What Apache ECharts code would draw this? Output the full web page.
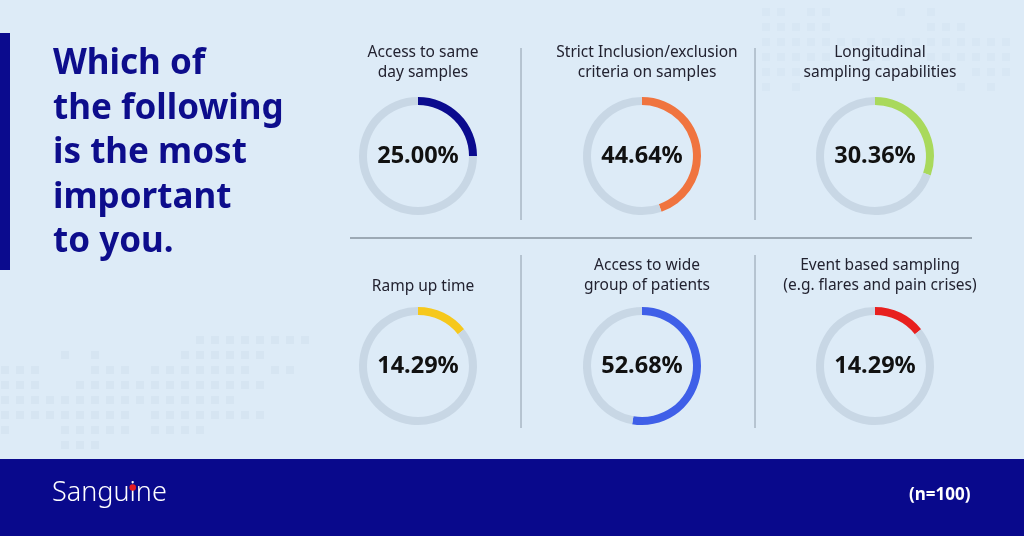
<!DOCTYPE html>
<html>
<head>
<meta charset="utf-8">
<script src="https://cdn.jsdelivr.net/npm/echarts@6/dist/echarts.min.js"></script>
<style>
html,body{margin:0;padding:0;background:#ddebf7;}
#main{width:1024px;height:536px;}
</style>
</head>
<body>
<div id="main"></div>
<script>
// ---- data ----
var categories = [
  "Access to same\nday samples",
  "Strict Inclusion/exclusion\ncriteria on samples",
  "Longitudinal\nsampling capabilities",
  "Ramp up time",
  "Access to wide\ngroup of patients",
  "Event based sampling\n(e.g. flares and pain crises)"
];
var values = [25.00, 44.64, 30.36, 14.29, 52.68, 14.29];
var headline = ["Which of", "the following", "is the most", "important", "to you."];
var brand = "Sanguine";
var sampleNote = "(n=100)";

// ---- styles / layout ----
var colors = ["#0b0b8e", "#f0743f", "#a9d95c", "#f6c81c", "#3f5fe8", "#e8201f"];
var trackColor = "#c8d7e5";
var centersX = [418, 642, 875];
var centersY = [156, 366];

// faint decorative pixel pattern (background ornament)
var decoLowerLeft = [
  "0000000000000111111110",
  "0000101000001111110000",
  "1110001110111111101100",
  "1110011111111111110000",
  "1111111111111111000000",
  "1111111110111111110000",
  "1000111110111100000000",
  "0000111000000000000000"
];
var decoTopRight = [
  "11011000010100000",
  "11111000000111000",
  "11111111111111111",
  "11111001100111111",
  "11101000001110111",
  "10100000000001010"
];

var chart = echarts.init(document.getElementById('main'), null, {renderer: 'canvas'});

var series = [];
var titles = [];
values.forEach(function (v, i) {
  var cx = centersX[i % 3], cy = centersY[Math.floor(i / 3)];
  series.push({
    type: 'pie',
    center: [cx, cy],
    radius: [51, 59],
    startAngle: 90,
    clockwise: true,
    silent: true,
    animation: false,
    labelLine: {show: false},
    data: [
      {value: v, itemStyle: {color: colors[i]},
       label: {show: true, position: 'center', formatter: v.toFixed(2) + '%',
         fontFamily: 'Noto Sans', fontWeight: 'bold', fontSize: 23.5, color: '#111111'}},
      {value: 100 - v, itemStyle: {color: trackColor}, label: {show: false}}
    ]
  });
  var lines = categories[i].split('\n').length;
  var rowTop = i < 3 ? 37 : 250;
  titles.push({
    text: categories[i],
    left: cx,
    top: lines === 1 ? rowTop + 21 : rowTop,
    textAlign: 'center',
    textStyle: {fontFamily: 'Noto Sans', fontWeight: 'normal', fontSize: 15.5, color: '#222230', lineHeight: 20.5}
  });
});

// locate the dot of the "i" in the brand name
var brandFont = '300 27px "Noto Sans"';
var cv = document.createElement('canvas').getContext('2d');
cv.font = brandFont;
var iIdx = brand.indexOf('i');
var dotX = 52 + cv.measureText(brand.slice(0, iIdx)).width + cv.measureText('i').width / 2;

var graphics = [];
function addDeco(rows, x0, y0, color) {
  rows.forEach(function (row, r) {
    for (var c = 0; c < row.length; c++) {
      if (row[c] === '1') {
        graphics.push({type: 'rect', silent: true, z: -10,
          shape: {x: x0 + c * 15, y: y0 + r * 15, width: 8, height: 8},
          style: {fill: color}});
      }
    }
  });
}
addDeco(decoLowerLeft, 1, 336, '#d6e5f2');
addDeco(decoTopRight, 762, 8, '#d8e7f4');

graphics = graphics.concat([
  // left accent bar
  {type: 'rect', shape: {x: 0, y: 33, width: 10, height: 237}, style: {fill: '#0b0b8e'}},
  // dividers
  {type: 'line', shape: {x1: 350, y1: 238, x2: 972, y2: 238}, style: {stroke: '#5c6874', lineWidth: 1.2}},
  {type: 'line', shape: {x1: 521, y1: 48, x2: 521, y2: 220}, style: {stroke: '#8e9caa', lineWidth: 1}},
  {type: 'line', shape: {x1: 755, y1: 48, x2: 755, y2: 220}, style: {stroke: '#8e9caa', lineWidth: 1}},
  {type: 'line', shape: {x1: 521, y1: 255, x2: 521, y2: 428}, style: {stroke: '#8e9caa', lineWidth: 1}},
  {type: 'line', shape: {x1: 755, y1: 255, x2: 755, y2: 428}, style: {stroke: '#8e9caa', lineWidth: 1}},
  // footer band
  {type: 'rect', shape: {x: 0, y: 459, width: 1024, height: 77}, style: {fill: '#09098c'}},
  {type: 'text', left: 52, top: 480, style: {text: brand, fill: '#ffffff', font: brandFont}},
  {type: 'circle', shape: {cx: dotX, cy: 487.5, r: 3.3}, style: {fill: '#e51c23'}},
  {type: 'text', left: 909, top: 487, style: {text: sampleNote, fill: '#ffffff', font: 'bold 17px "Noto Sans"'}}
]);
headline.forEach(function (t, k) {
  graphics.push({type: 'text', left: 53, top: 47 + k * 44.5,
    style: {text: t, fill: '#0d0d8c', font: 'bold 35px "Noto Sans"'}});
});

chart.setOption({
  backgroundColor: '#ddebf7',
  animation: false,
  title: titles,
  graphic: graphics,
  series: series
});
</script>
</body>
</html>
